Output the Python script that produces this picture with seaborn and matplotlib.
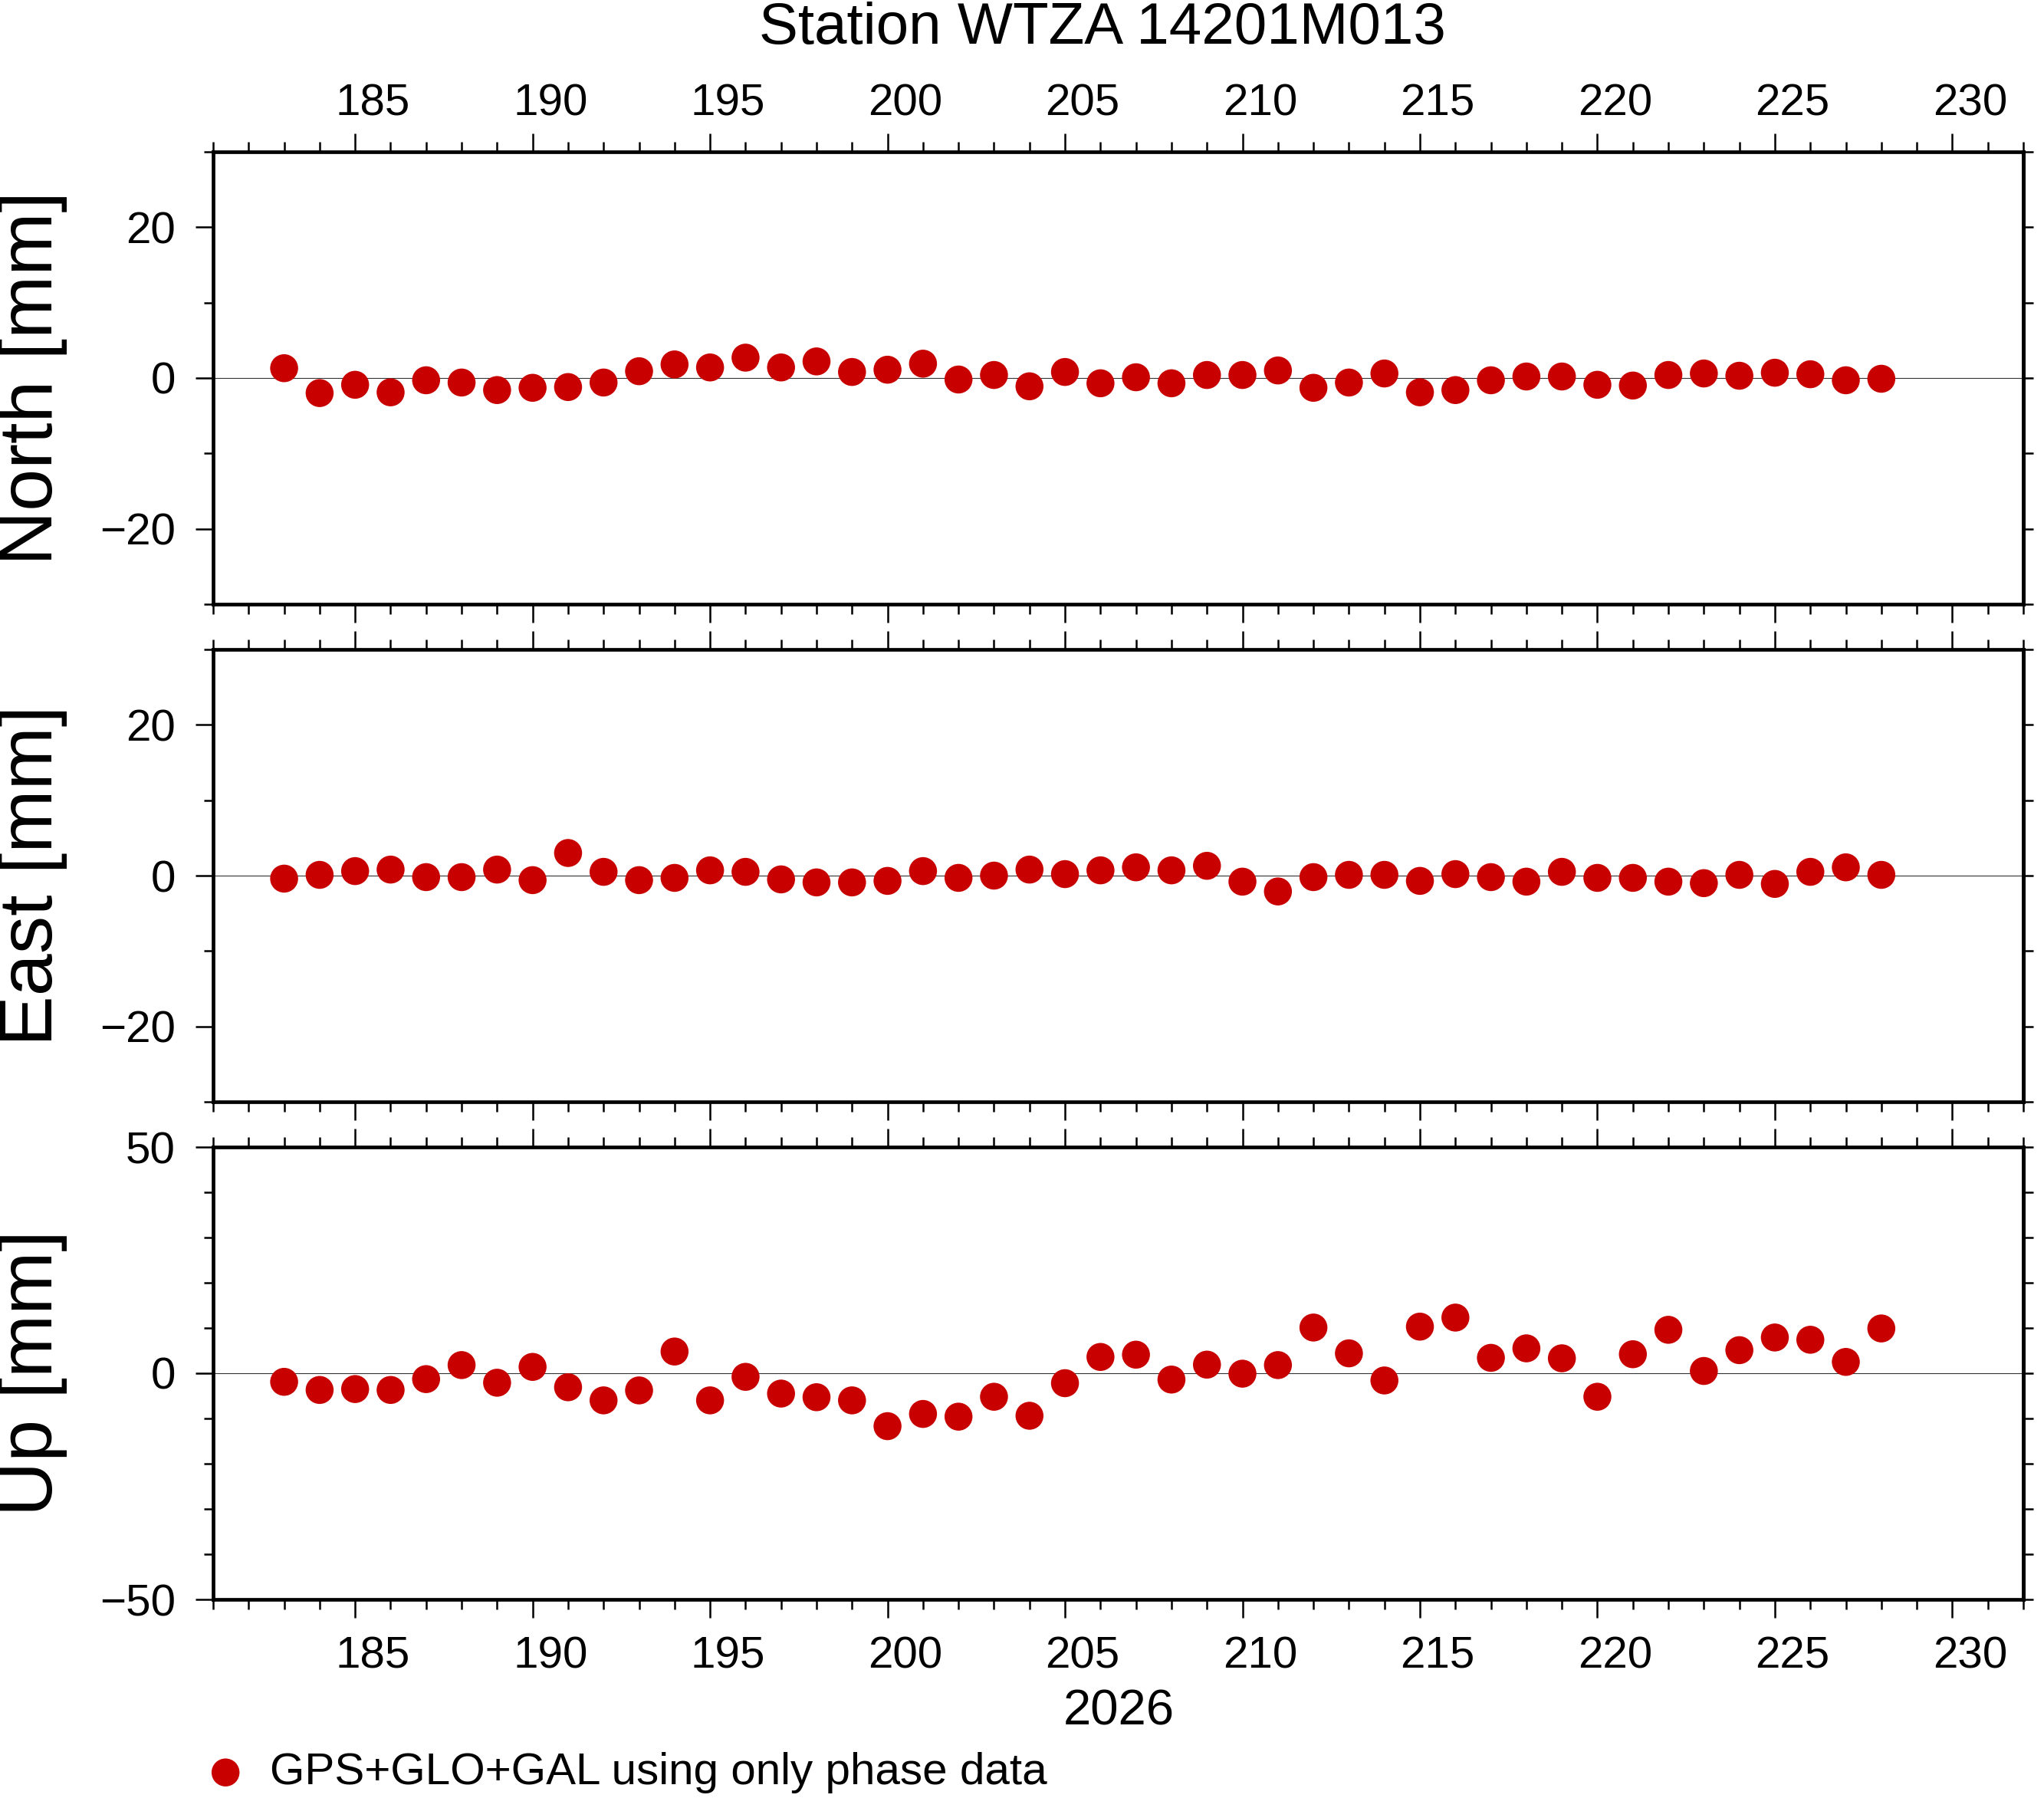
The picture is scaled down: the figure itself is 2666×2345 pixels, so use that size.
import numpy as np
import pandas as pd
import matplotlib
matplotlib.use("Agg")
import matplotlib.pyplot as plt
import seaborn as sns
from matplotlib.ticker import MultipleLocator, FixedLocator
from matplotlib.transforms import ScaledTranslation

# ---------------- data ----------------
days = list(range(183, 229))
north = [1.3, -2.0, -0.9, -1.9, -0.3, -0.6, -1.6, -1.3, -1.2, -0.6,
         0.9, 1.8, 1.4, 2.7, 1.4, 2.2, 0.8, 1.1, 1.9, -0.2,
         0.4, -1.1, 0.8, -0.7, 0.1, -0.7, 0.4, 0.4, 1.0, -1.3,
         -0.6, 0.6, -1.9, -1.6, -0.3, 0.2, 0.2, -0.9, -1.0, 0.4,
         0.6, 0.3, 0.7, 0.5, -0.3, -0.1]
east = [-0.4, 0.1, 0.6, 0.8, -0.2, -0.2, 0.8, -0.6, 3.0, 0.5,
        -0.6, -0.3, 0.7, 0.5, -0.5, -0.9, -0.9, -0.7, 0.6, -0.3,
        0.0, 0.8, 0.2, 0.7, 1.1, 0.7, 1.3, -0.8, -2.1, -0.2,
        0.1, 0.1, -0.7, 0.2, -0.2, -0.8, 0.5, -0.3, -0.3, -0.8,
        -1.0, 0.1, -1.1, 0.5, 1.1, 0.1]
up = [-1.9, -3.7, -3.5, -3.7, -1.3, 1.8, -2.1, 1.4, -3.1, -6.0,
      -3.8, 4.8, -6.0, -0.8, -4.5, -5.3, -6.0, -11.7, -9.0, -9.6,
      -5.2, -9.4, -2.2, 3.6, 4.1, -1.4, 1.9, -0.1, 1.8, 10.1,
      4.4, -1.6, 10.3, 12.3, 3.4, 5.5, 3.3, -5.2, 4.2, 9.6,
      0.5, 5.1, 7.9, 7.4, 2.5, 9.9]

panel_names = ["North", "East", "Up"]
panel_labels = ["North [mm]", "East [mm]", "Up [mm]"]
x_major_ticks = list(range(185, 231, 5))
title_text = "Station WTZA 14201M013"
xlabel_text = "2026"
legend_text = "GPS+GLO+GAL using only phase data"

df = pd.DataFrame({"day": days, "North": north, "East": east, "Up": up})

# ---------------- style ----------------
sns.set_theme(style="ticks")
plt.rcParams["font.family"] = ["Liberation Sans", "DejaVu Sans"]
plt.rcParams["axes.unicode_minus"] = True
for key in ["text.color", "axes.labelcolor", "xtick.color", "ytick.color",
            "axes.edgecolor", "xtick.labelcolor", "ytick.labelcolor"]:
    plt.rcParams[key] = "black"

W, H = 2666, 2345
fig = plt.figure(figsize=(W / 100, H / 100), dpi=100)

left = 278 / W
width = (2639 - 278) / W
height = 590 / H
bottoms = [1 - 788 / H, 1 - 1437 / H, 1 - 2086 / H]
ylims = [(-30, 30), (-30, 30), (-50, 50)]
ymajor = [[-20, 0, 20], [-20, 0, 20], [-50, 0, 50]]

red = "#C80000"
frame_lw = 3.4
tick_w = 1.8
maj_len = 17.3
min_len = 9.4
xmin, xmax = 181, 232

axes = []
for i, name in enumerate(panel_names):
    ax = fig.add_axes([left, bottoms[i], width, height])
    ax.set_facecolor("white")
    sns.scatterplot(data=df, x="day", y=name, ax=ax, s=690, color=red,
                    edgecolor="none", linewidth=0, zorder=3, legend=False)
    ax.axhline(0, color="#333333", lw=0.8, zorder=1)
    ax.set_xlim(xmin, xmax)
    ax.set_ylim(*ylims[i])
    ax.set_xlabel("")
    ax.set_ylabel("")

    ax.xaxis.set_major_locator(FixedLocator(x_major_ticks))
    ax.xaxis.set_minor_locator(MultipleLocator(1))
    ax.yaxis.set_major_locator(FixedLocator(ymajor[i]))
    ax.yaxis.set_minor_locator(MultipleLocator(10))

    for sp in ax.spines.values():
        sp.set_visible(True)
        sp.set_linewidth(frame_lw)
        sp.set_color("black")

    ax.tick_params(axis="x", which="both", direction="out", top=True, bottom=True,
                   width=tick_w, color="black", labelcolor="black", labelsize=42,
                   labeltop=(i == 0), labelbottom=(i == 2),
                   pad=(8.6 if i == 0 else 17))
    ax.tick_params(axis="x", which="major", length=maj_len)
    ax.tick_params(axis="x", which="minor", length=min_len)
    ax.tick_params(axis="y", which="both", direction="out", left=True, right=False,
                   width=tick_w, color="black", labelcolor="black", labelsize=42,
                   pad=18.7)
    ax.tick_params(axis="y", which="major", length=16.6)
    ax.tick_params(axis="y", which="minor", length=8.6)

    sec = ax.secondary_yaxis("right")
    sec.set_yticks(list(range(ylims[i][0], ylims[i][1] + 1, 10)))
    sec.tick_params(axis="y", which="major", direction="out", length=min_len,
                    width=tick_w, color="black", labelright=False)
    sec.tick_params(axis="y", which="minor", length=0)
    sec.spines["right"].set_linewidth(frame_lw)
    sec.spines["right"].set_color("black")

    ax.set_yticklabels([str(v).replace("-", "\u2212") for v in ymajor[i]])
    axes.append(ax)

# shift x tick labels by half a day (labels centred on the day interval)
half_day_in = 0.5 * (width * W / 100) / (xmax - xmin)
offset = ScaledTranslation(half_day_in, 0, fig.dpi_scale_trans)
for ax in (axes[0], axes[2]):
    for tk in ax.xaxis.get_major_ticks():
        tk.label1.set_transform(tk.label1.get_transform() + offset)
        tk.label2.set_transform(tk.label2.get_transform() + offset)

# y labels
for i, lab in enumerate(panel_labels):
    fig.text(43 / W, bottoms[i] + height / 2, lab, rotation=90,
             ha="center", va="center", fontsize=71, color="black")

fig.text(1438 / W, 1 - 57 / H, title_text, ha="center", va="baseline",
         fontsize=55, color="black")
fig.text(1459 / W, 1 - 2250 / H, xlabel_text, ha="center", va="baseline",
         fontsize=47, color="black")

handle = axes[0].collections[0]
leg = fig.legend([handle], [legend_text], loc="center left",
                 bbox_to_anchor=(265 / W, 1 - 2312 / H), frameon=False, fontsize=42,
                 handlelength=1.0, handletextpad=0.5, borderpad=0, borderaxespad=0)
for t in leg.get_texts():
    t.set_color("black")

fig.savefig("out.png", dpi=100, facecolor="white")
